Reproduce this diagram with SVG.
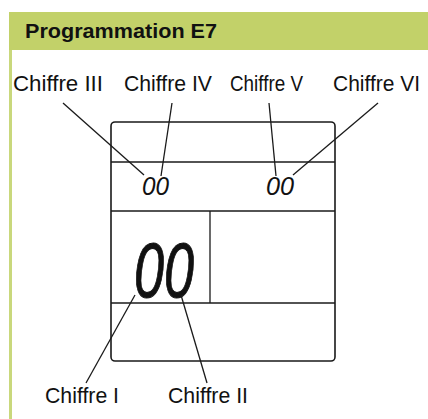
<svg xmlns="http://www.w3.org/2000/svg" width="428" height="419" viewBox="0 0 428 419">
<style>
.lbl{font-family:"Liberation Sans",Arial,sans-serif;font-size:22px;fill:#111}
.lcd{font-family:"Liberation Sans",Arial,sans-serif;font-style:italic;fill:#111}
.ln{stroke:#1a1a1a;stroke-width:1.3;fill:none}
.box{stroke:#1a1a1a;stroke-width:1.6;fill:#fff}
</style>
<rect x="0" y="0" width="428" height="419" fill="#fff"/>
<g id="header">
<rect x="9" y="12" width="419" height="38" fill="#c2d169"/>
<rect x="9" y="50" width="3" height="369" fill="#c9d87c"/>
<text x="25" y="38" font-family="'Liberation Sans',Arial,sans-serif" font-weight="bold" font-size="21" fill="#111" textLength="192" lengthAdjust="spacingAndGlyphs">Programmation E7</text>
</g>
<g id="display">
<rect class="box" x="111" y="122" width="224" height="239" rx="4"/>
<line class="ln" x1="111" y1="162" x2="335" y2="162"/>
<line class="ln" x1="111" y1="211" x2="335" y2="211"/>
<line class="ln" x1="111" y1="303" x2="335" y2="303"/>
<line class="ln" x1="210" y1="211" x2="210" y2="303"/>
</g>
<g id="digits-small-left"><text class="lcd" x="142" y="195" font-size="25" textLength="27" lengthAdjust="spacingAndGlyphs">00</text></g>
<g id="digits-small-right"><text class="lcd" x="266" y="195" font-size="25" textLength="28" lengthAdjust="spacingAndGlyphs">00</text></g>
<g id="digits-large"><text class="lcd" x="134" y="297" font-size="77" stroke="#111" stroke-width="1" textLength="60" lengthAdjust="spacingAndGlyphs">00</text></g>
<g id="label-III"><text class="lbl" x="13" y="91" textLength="90" lengthAdjust="spacingAndGlyphs">Chiffre III</text></g>
<g id="label-IV"><text class="lbl" x="124" y="91" textLength="88" lengthAdjust="spacingAndGlyphs">Chiffre IV</text></g>
<g id="label-V"><text class="lbl" x="230" y="91" textLength="73" lengthAdjust="spacingAndGlyphs">Chiffre V</text></g>
<g id="label-VI"><text class="lbl" x="333" y="91" textLength="87" lengthAdjust="spacingAndGlyphs">Chiffre VI</text></g>
<g id="label-I"><text class="lbl" x="45" y="403" textLength="74" lengthAdjust="spacingAndGlyphs">Chiffre I</text></g>
<g id="label-II"><text class="lbl" x="168" y="403" textLength="80" lengthAdjust="spacingAndGlyphs">Chiffre II</text></g>
<g id="connectors">
<line class="ln" x1="63" y1="103" x2="144" y2="175"/>
<line class="ln" x1="172" y1="103" x2="161" y2="176"/>
<line class="ln" x1="269" y1="103" x2="276" y2="176"/>
<line class="ln" x1="378" y1="103" x2="293" y2="175"/>
<line class="ln" x1="135" y1="295" x2="86" y2="383"/>
<line class="ln" x1="181" y1="295" x2="207" y2="383"/>
</g>
</svg>
